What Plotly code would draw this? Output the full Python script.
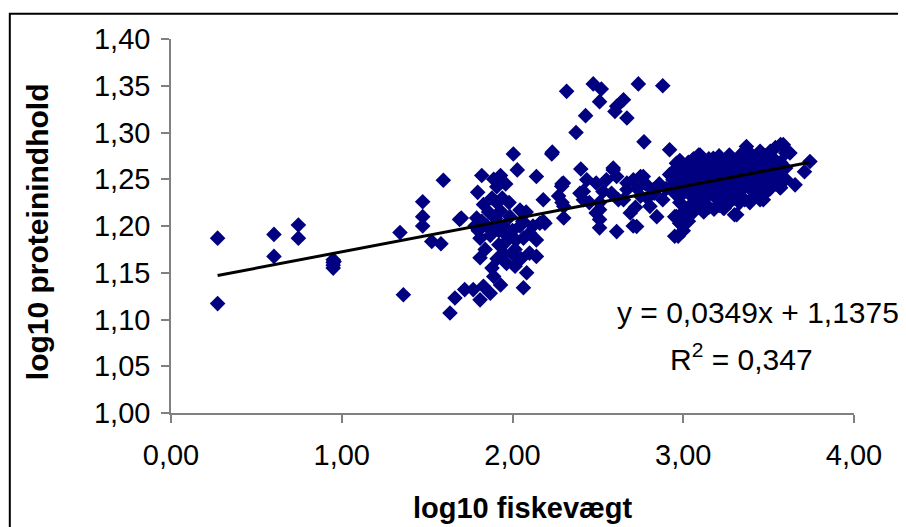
import plotly.graph_objects as go

# ---- data ----
x_sparse = [0.273, 0.273, 0.603, 0.603, 0.746, 0.746, 0.95, 0.95, 0.95, 0.95, 0.955,
            1.341, 1.361, 1.474, 1.474, 1.474, 1.527, 1.581, 1.595, 1.634, 1.663, 1.69]
y_sparse = [1.187, 1.117, 1.191, 1.1675, 1.201, 1.187, 1.164, 1.161, 1.158, 1.155, 1.162,
            1.193, 1.1265, 1.226, 1.210, 1.200, 1.1835, 1.181, 1.249, 1.107, 1.123, 1.207]

x_left = [2.005, 2.23, 1.82, 1.93, 2.028, 2.14, 1.796, 1.908, 2.18, 1.83, 1.908, 1.93, 1.70, 1.79,
          2.044, 2.18, 1.81, 1.89, 1.97, 2.064, 2.14, 1.81, 1.946, 2.015, 2.10, 2.14, 1.965, 1.89,
          1.93, 2.083, 2.064, 1.83, 1.77, 1.72, 1.81, 1.87, 2.015, 1.84, 1.985, 2.044, 2.10, 1.956,
          1.86, 1.88, 1.90, 1.92, 1.95, 1.87, 1.85, 1.82, 1.98, 2.0, 2.02, 2.06, 2.08, 2.12, 1.94,
          1.96, 1.89, 2.0, 2.05, 1.91, 1.88, 1.92, 1.8, 1.78]
y_left = [1.277, 1.277, 1.254, 1.254, 1.260, 1.253, 1.236, 1.242, 1.228, 1.223, 1.225, 1.216, 1.2085, 1.2085,
          1.217, 1.205, 1.187, 1.200, 1.189, 1.187, 1.185, 1.166, 1.171, 1.175, 1.171, 1.1675, 1.160, 1.146,
          1.137, 1.150, 1.134, 1.1355, 1.132, 1.132, 1.121, 1.128, 1.157, 1.175, 1.21, 1.20, 1.1925, 1.182,
          1.215, 1.23, 1.208, 1.195, 1.2, 1.19, 1.2, 1.205, 1.225, 1.195, 1.185, 1.205, 1.215, 1.2, 1.23,
          1.245, 1.25, 1.17, 1.165, 1.165, 1.155, 1.18, 1.195, 1.2]

x_band = [2.298, 2.27, 2.30, 2.19, 2.30, 2.49, 2.415, 2.53, 2.51, 2.51, 2.61, 2.62, 2.708, 2.69, 2.727,
          2.766, 2.825, 2.88, 2.94, 2.98, 2.97, 2.96, 2.61, 2.67, 2.75, 2.805, 2.845, 2.288, 2.29, 2.16,
          2.395, 2.435, 2.415, 2.51, 2.49, 2.51, 2.59, 2.55, 2.67, 2.75, 2.707, 2.83, 2.45, 2.58, 2.65,
          2.72, 2.78, 2.86, 2.9, 2.92, 2.73, 2.79]
y_band = [1.246, 1.232, 1.221, 1.203, 1.2085, 1.246, 1.237, 1.237, 1.2175, 1.207, 1.194, 1.228, 1.2495, 1.214, 1.1995,
          1.253, 1.239, 1.228, 1.2495, 1.239, 1.189, 1.21, 1.253, 1.239, 1.232, 1.221, 1.21, 1.2425, 1.225, 1.203,
          1.235, 1.2495, 1.228, 1.225, 1.214, 1.198, 1.26, 1.2495, 1.246, 1.253, 1.20, 1.235, 1.225, 1.235, 1.228,
          1.22, 1.245, 1.245, 1.24, 1.255, 1.24, 1.23]

x_top = [2.317, 2.473, 2.52, 2.51, 2.737, 2.88, 2.61, 2.65, 2.60, 2.67, 2.428, 2.372, 2.77, 2.233,
         2.92, 2.96, 2.40, 2.59, 2.29]
y_top = [1.344, 1.352, 1.3465, 1.333, 1.352, 1.350, 1.328, 1.335, 1.3225, 1.3155, 1.318, 1.300, 1.290, 1.279,
         1.2815, 1.267, 1.261, 1.262, 1.245]

x_mass = [2.95, 2.95, 2.95, 2.95, 2.98, 2.98, 2.98, 2.98, 3.00, 3.00, 3.00, 3.00, 3.00,
          3.03, 3.03, 3.03, 3.03, 3.03, 3.06, 3.06, 3.06, 3.06, 3.06, 3.09, 3.09, 3.09, 3.09, 3.09,
          3.12, 3.12, 3.12, 3.12, 3.12, 3.15, 3.15, 3.15, 3.15, 3.15, 3.18, 3.18, 3.18, 3.18, 3.18,
          3.21, 3.21, 3.21, 3.21, 3.21, 3.24, 3.24, 3.24, 3.24, 3.24, 3.27, 3.27, 3.27, 3.27, 3.27,
          3.30, 3.30, 3.30, 3.30, 3.30, 3.33, 3.33, 3.33, 3.33, 3.33, 3.36, 3.36, 3.36, 3.36, 3.36,
          3.39, 3.39, 3.39, 3.39, 3.39, 3.42, 3.42, 3.42, 3.42, 3.45, 3.45, 3.45, 3.45, 3.45,
          3.48, 3.48, 3.48, 3.48, 3.51, 3.51, 3.51, 3.51, 3.54, 3.54, 3.54, 3.54,
          3.57, 3.57, 3.57, 3.57, 3.60, 3.60, 3.60, 3.625, 3.655, 3.71, 3.742,
          3.098, 3.176, 3.37, 3.45, 3.586, 3.567, 3.469, 3.313, 3.235, 2.95, 2.98]
y_mass = [1.235, 1.245, 1.26, 1.21, 1.203, 1.225, 1.25, 1.27, 1.215, 1.235, 1.248, 1.26, 1.195,
          1.22, 1.24, 1.255, 1.268, 1.205, 1.215, 1.23, 1.245, 1.26, 1.272, 1.22, 1.235, 1.25, 1.265, 1.276,
          1.215, 1.228, 1.242, 1.255, 1.268, 1.22, 1.235, 1.248, 1.262, 1.272, 1.218, 1.232, 1.245, 1.258, 1.27,
          1.222, 1.238, 1.25, 1.264, 1.275, 1.219, 1.232, 1.245, 1.257, 1.27, 1.225, 1.24, 1.252, 1.265, 1.276,
          1.212, 1.23, 1.245, 1.258, 1.27, 1.225, 1.238, 1.25, 1.262, 1.275, 1.228, 1.242, 1.255, 1.268, 1.28,
          1.225, 1.24, 1.252, 1.265, 1.278, 1.232, 1.245, 1.258, 1.27, 1.228, 1.24, 1.255, 1.268, 1.28,
          1.235, 1.248, 1.262, 1.275, 1.24, 1.252, 1.265, 1.28, 1.245, 1.258, 1.27, 1.284,
          1.241, 1.255, 1.268, 1.287, 1.25, 1.262, 1.278, 1.278, 1.244, 1.258, 1.269,
          1.276, 1.2725, 1.285, 1.278, 1.287, 1.241, 1.228, 1.212, 1.219, 1.189, 1.203]

slope = 0.0349
intercept = 1.1375
equation_text = "y = 0,0349x + 1,1375"
r2_text = "R<sup>2</sup> = 0,347"

x_ticks = [0, 1, 2, 3, 4]
y_ticks = [1.00, 1.05, 1.10, 1.15, 1.20, 1.25, 1.30, 1.35, 1.40]

x_all = x_sparse + x_left + x_band + x_top + x_mass
y_all = y_sparse + y_left + y_band + y_top + y_mass

NAVY = "#000080"
FONT = "Liberation Sans, Arial, sans-serif"

fig = go.Figure()
fig.add_trace(go.Scatter(
    x=x_all, y=y_all, mode="markers",
    marker=dict(symbol="diamond", size=12, color=NAVY, line=dict(width=0)),
    showlegend=False, hoverinfo="x+y"))

x_line = [min(x_all), max(x_all)]
y_line = [slope * v + intercept for v in x_line]
fig.add_trace(go.Scatter(x=x_line, y=y_line, mode="lines",
                         line=dict(color="black", width=3), showlegend=False))

axis_common = dict(showgrid=False, zeroline=False, showline=True, linecolor="#808080", linewidth=1.5,
                   ticks="outside", ticklen=8, tickcolor="#808080", tickwidth=1.5,
                   tickfont=dict(family=FONT, size=29, color="black"), tickformat=".2f")

# page has an 8px body margin, so the figure is 8px smaller and margins shifted
fig.update_layout(
    width=898, height=519,
    margin=dict(l=163, r=52, t=31, b=114, autoexpand=False),
    paper_bgcolor="white", plot_bgcolor="white",
    separators=",.",
    xaxis=dict(range=[0, 4], tickvals=x_ticks, ticklabelstandoff=7, **axis_common),
    yaxis=dict(range=[1.0, 1.4], tickvals=y_ticks, ticklabelstandoff=5, **axis_common),
    annotations=[
        dict(text=equation_text, xref="paper", yref="paper", x=1.0695, y=0.268,
             xanchor="right", yanchor="middle", showarrow=False,
             font=dict(family=FONT, size=30, color="black")),
        dict(text=r2_text, xref="paper", yref="paper", x=0.836, y=0.15,
             xanchor="center", yanchor="middle", showarrow=False,
             font=dict(family=FONT, size=30, color="black")),
        dict(text="<b>log10 fiskevægt</b>", xref="paper", yref="paper", x=0.515, y=-0.253,
             xanchor="center", yanchor="middle", showarrow=False,
             font=dict(family=FONT, size=29, color="black")),
        dict(text="<b>log10 proteinindhold</b>", xref="paper", yref="paper", x=-0.1945, y=0.484,
             xanchor="center", yanchor="middle", showarrow=False, textangle=-90,
             font=dict(family=FONT, size=30, color="black")),
    ],
    shapes=[dict(type="rect", xref="paper", yref="paper", x0=-0.236, x1=1.0717, y0=-0.33, y1=1.0676,
                 line=dict(color="black", width=2), fillcolor="rgba(0,0,0,0)", layer="below")],
)

fig.write_html("out.html")
